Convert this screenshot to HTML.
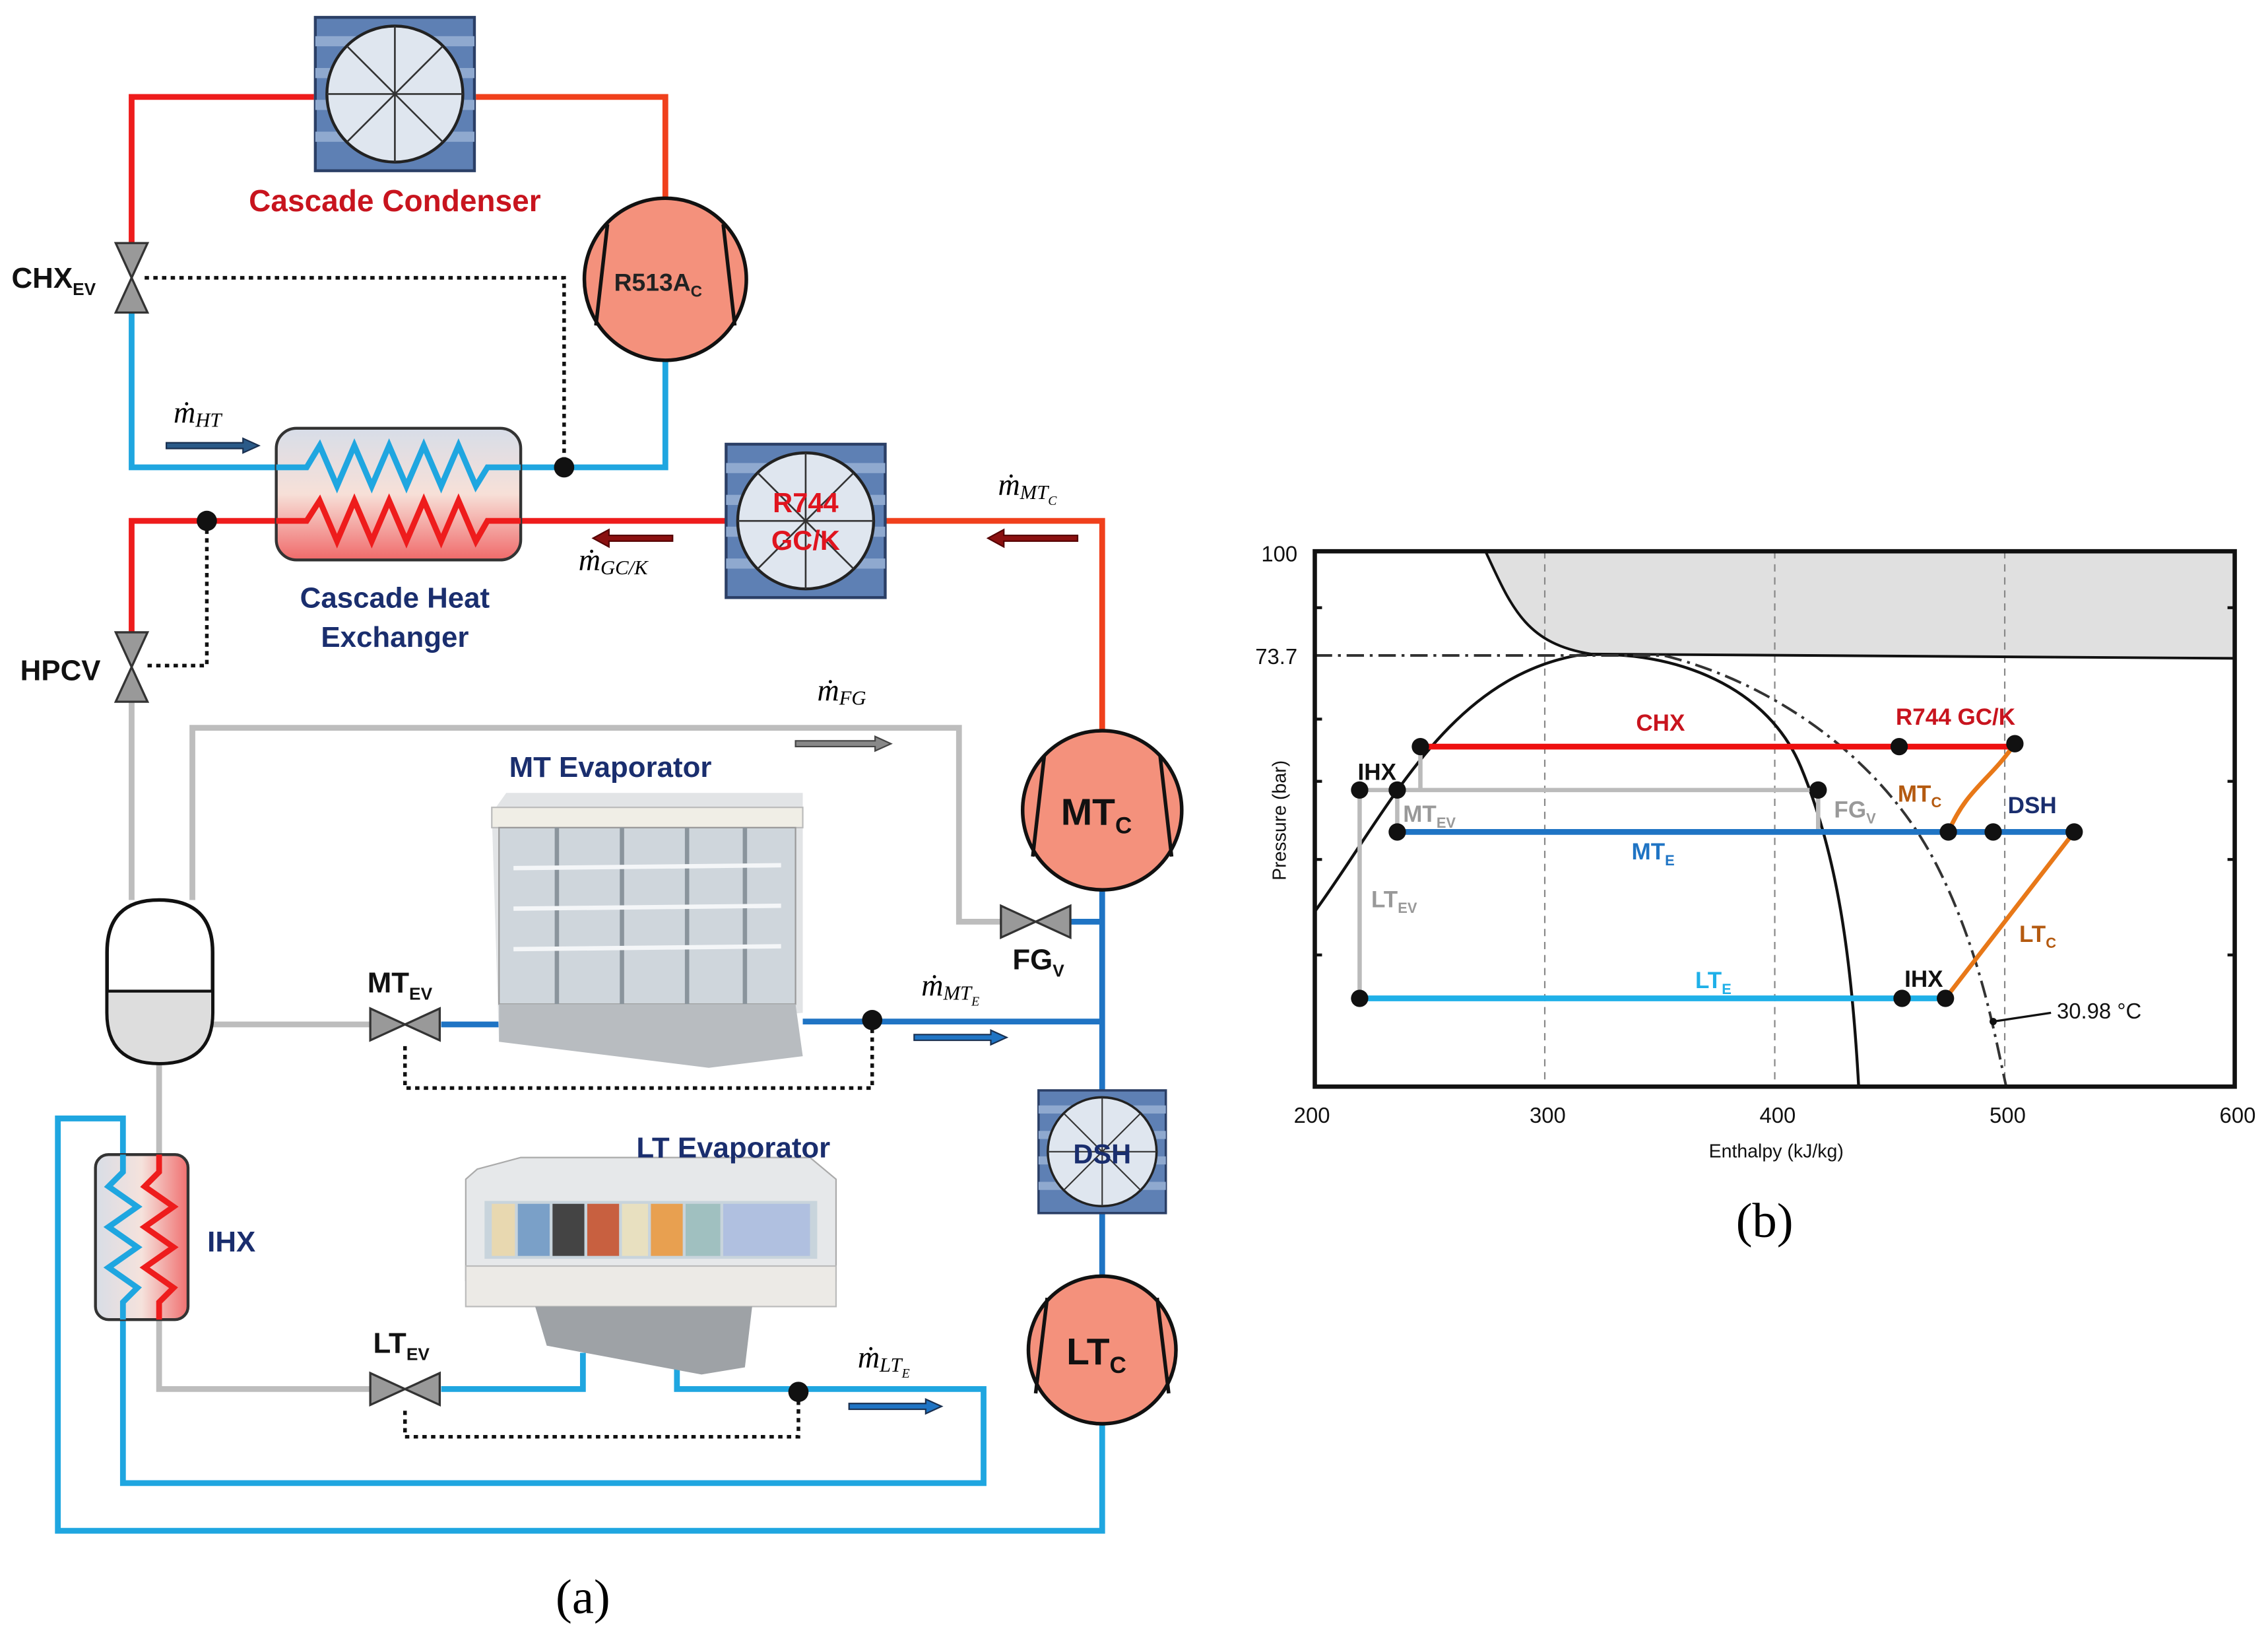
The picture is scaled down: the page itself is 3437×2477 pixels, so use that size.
<!DOCTYPE html>
<html><head><meta charset="utf-8"><style>
html,body{margin:0;padding:0;background:#fff;}
svg{display:block;}
.b{font-family:"Liberation Sans",sans-serif;font-weight:bold;}
.m{font-family:"Liberation Serif",serif;font-style:italic;}
</style></head><body>
<svg width="3437" height="2477" viewBox="0 0 1568 1130" preserveAspectRatio="none" xmlns="http://www.w3.org/2000/svg">
<defs>
<linearGradient id="hx" x1="0" y1="0" x2="0" y2="1">
<stop offset="0" stop-color="#d7dde8"/><stop offset="0.5" stop-color="#f7e0d8"/><stop offset="1" stop-color="#f06a6a"/></linearGradient>
<linearGradient id="ihx" x1="0" y1="0" x2="1" y2="0">
<stop offset="0" stop-color="#d8dde6"/><stop offset="0.5" stop-color="#f5e2dc"/><stop offset="1" stop-color="#f07070"/></linearGradient>
<g id="fan">
<rect x="-55" y="-53" width="110" height="106" fill="#5e80b4" stroke="#2b3f66" stroke-width="2"/>
<rect x="-55" y="-40" width="110" height="7" fill="#8fa9cf"/>
<rect x="-55" y="-18" width="110" height="7" fill="#8fa9cf"/>
<rect x="-55" y="4" width="110" height="7" fill="#8fa9cf"/>
<rect x="-55" y="26" width="110" height="7" fill="#8fa9cf"/>
<circle r="47" fill="#dfe6ef" stroke="#222" stroke-width="2"/>
<g stroke="#333" stroke-width="1.2"><line x1="-47" y1="0" x2="47" y2="0"/><line x1="0" y1="-47" x2="0" y2="47"/><line x1="-33" y1="-33" x2="33" y2="33"/><line x1="-33" y1="33" x2="33" y2="-33"/></g>
</g>
<g id="vv"><polygon points="-11,-24 11,-24 0,0" fill="#999" stroke="#333" stroke-width="1.5"/><polygon points="-11,24 11,24 0,0" fill="#999" stroke="#333" stroke-width="1.5"/></g>
<g id="hv"><polygon points="-24,-11 -24,11 0,0" fill="#999" stroke="#333" stroke-width="1.5"/><polygon points="24,-11 24,11 0,0" fill="#999" stroke="#333" stroke-width="1.5"/></g>
</defs>

<!-- pipes -->
<g fill="none" stroke-width="4">
<polyline points="91,168 91,67 217,67" stroke="#ee1c1c"/>
<polyline points="329,67 460,67 460,137" stroke="#f0401c"/>
<polyline points="91,215 91,323 191,323" stroke="#1fa6e0"/>
<polyline points="360,323 460,323 460,250" stroke="#1fa6e0"/>
<polyline points="91,437 91,360 191,360" stroke="#ee1c1c"/>
<line x1="360" y1="360" x2="503" y2="360" stroke="#ee1c1c"/>
<polyline points="610,360 762,360 762,505" stroke="#f0401c"/>
<line x1="91" y1="485" x2="91" y2="622" stroke="#bdbdbd"/>
<polyline points="133,622 133,503 663,503 663,637 692,637" stroke="#bdbdbd"/>
<line x1="740" y1="637" x2="762" y2="637" stroke="#1f74c4"/>
<line x1="147" y1="708" x2="256" y2="708" stroke="#bdbdbd"/>
<line x1="305" y1="708" x2="345" y2="708" stroke="#1f74c4"/>
<line x1="555" y1="706" x2="762" y2="706" stroke="#1f74c4"/>
<line x1="762" y1="615" x2="762" y2="881" stroke="#1f74c4"/>
<line x1="110" y1="735" x2="110" y2="798" stroke="#bdbdbd"/>
<polyline points="110,912 110,960 256,960" stroke="#bdbdbd"/>
<polyline points="305,960 403,960 403,935" stroke="#1fa6e0"/>
<polyline points="468,935 468,960 680,960 680,1025 85,1025 85,912" stroke="#1fa6e0"/>
<polyline points="762,985 762,1058 40,1058 40,773 85,773 85,798" stroke="#1fa6e0"/>
</g>
<!-- dotted control lines -->
<g fill="none" stroke="#111" stroke-width="2.5" stroke-dasharray="3,3">
<polyline points="100,192 390,192 390,323"/>
<polyline points="143,360 143,460 100,460"/>
<polyline points="603,705 603,752 280,752 280,722"/>
<polyline points="552,962 552,993 280,993 280,974"/>
</g>
<g fill="#111"><circle cx="390" cy="323" r="7"/><circle cx="143" cy="360" r="7"/><circle cx="603" cy="705" r="7"/><circle cx="552" cy="962" r="7"/></g>

<!-- fans -->
<use href="#fan" x="273" y="65"/>
<use href="#fan" x="557" y="360"/>
<g transform="translate(762,796) scale(0.8)"><use href="#fan"/></g>
<text x="557" y="354" text-anchor="middle" class="b" font-size="19" fill="#e0141e">R744</text>
<text x="557" y="380" text-anchor="middle" class="b" font-size="19" fill="#e0141e">GC/K</text>
<text x="762" y="804" text-anchor="middle" class="b" font-size="19" fill="#1a2e6e">DSH</text>

<!-- compressors -->
<g stroke="#111" stroke-width="2.5" fill="#f4917c">
<circle cx="460" cy="193" r="56"/><circle cx="762" cy="560" r="55"/><circle cx="762" cy="933" r="51"/>
</g>
<g stroke="#111" stroke-width="2.5">
<line x1="420" y1="155" x2="412" y2="225"/><line x1="500" y1="155" x2="508" y2="225"/>
<line x1="722" y1="522" x2="714" y2="592"/><line x1="802" y1="522" x2="810" y2="592"/>
<line x1="724" y1="897" x2="716" y2="963"/><line x1="800" y1="897" x2="808" y2="963"/>
</g>
<text x="455" y="201" text-anchor="middle" class="b" font-size="17" fill="#222">R513A<tspan font-size="11" dy="4">C</tspan></text>
<text x="758" y="570" text-anchor="middle" class="b" font-size="26" fill="#111">MT<tspan font-size="16" dy="6">C</tspan></text>
<text x="758" y="943" text-anchor="middle" class="b" font-size="26" fill="#111">LT<tspan font-size="16" dy="6">C</tspan></text>

<!-- valves -->
<use href="#vv" x="91" y="192"/>
<use href="#vv" x="91" y="461"/>
<use href="#hv" x="716" y="637"/>
<use href="#hv" x="280" y="708"/>
<use href="#hv" x="280" y="960"/>

<!-- cascade HX -->
<rect x="191" y="296" width="169" height="91" rx="14" fill="url(#hx)" stroke="#333" stroke-width="2"/>
<polyline points="191,323 212,323 221,308 233,336 245,308 257,336 269,308 281,336 293,308 305,336 317,308 329,336 337,323 360,323" fill="none" stroke="#1fa6e0" stroke-width="4"/>
<polyline points="191,360 212,360 221,346 233,374 245,346 257,374 269,346 281,374 293,346 305,374 317,346 329,374 337,360 360,360" fill="none" stroke="#ee1c1c" stroke-width="4"/>

<!-- receiver -->
<path d="M74,658 Q74,622 110,622 Q147,622 147,658 L147,700 Q147,735 110,735 Q74,735 74,700 Z" fill="#fff" stroke="#111" stroke-width="2.5"/>
<path d="M75,685 L146,685 L146,700 Q146,734 110,734 Q75,734 75,700 Z" fill="#ddd"/>
<line x1="74" y1="685" x2="147" y2="685" stroke="#111" stroke-width="2"/>

<!-- IHX -->
<rect x="66" y="798" width="64" height="114" rx="9" fill="url(#ihx)" stroke="#333" stroke-width="2"/>
<polyline points="85,798 85,810 75,820 95,834 75,848 95,862 75,876 95,890 85,900 85,912" fill="none" stroke="#1fa6e0" stroke-width="4"/>
<polyline points="110,798 110,810 100,820 120,834 100,848 120,862 100,876 120,890 110,900 110,912" fill="none" stroke="#ee1c1c" stroke-width="4"/>

<!-- MT case -->
<polygon points="340,562 350,548 555,548 555,700 345,720" fill="#e2e4e6"/>
<rect x="340" y="558" width="215" height="14" fill="#f0eee6" stroke="#bbb"/>
<rect x="345" y="572" width="205" height="122" fill="#cfd6dc" stroke="#999"/>
<g stroke="#8a949c" stroke-width="3"><line x1="385" y1="572" x2="385" y2="694"/><line x1="430" y1="572" x2="430" y2="694"/><line x1="475" y1="572" x2="475" y2="694"/><line x1="515" y1="572" x2="515" y2="694"/></g>
<g stroke="#f4f6f8" stroke-width="3"><line x1="355" y1="600" x2="540" y2="598"/><line x1="355" y1="628" x2="540" y2="626"/><line x1="355" y1="656" x2="540" y2="654"/></g>
<polygon points="345,694 550,694 555,730 490,738 345,720" fill="#b8bcc0"/>
<!-- LT case -->
<polygon points="330,808 360,800 560,800 578,815 578,885 322,885 322,815" fill="#e6e8ea" stroke="#aaa"/>
<rect x="335" y="830" width="230" height="40" fill="#c8d4dc"/>
<g><rect x="340" y="832" width="16" height="36" fill="#e8d8b0"/><rect x="358" y="832" width="22" height="36" fill="#7aa0c8"/><rect x="382" y="832" width="22" height="36" fill="#444"/><rect x="406" y="832" width="22" height="36" fill="#c86040"/><rect x="430" y="832" width="18" height="36" fill="#e8e0c0"/><rect x="450" y="832" width="22" height="36" fill="#e8a050"/><rect x="474" y="832" width="24" height="36" fill="#a0c0c0"/><rect x="500" y="832" width="60" height="36" fill="#b0c0e0"/></g>
<rect x="322" y="875" width="256" height="28" fill="#eceae6" stroke="#bbb"/>
<polygon points="370,903 520,903 515,945 485,950 378,930" fill="#9ea2a6"/>

<!-- labels -->
<text x="273" y="146" text-anchor="middle" class="b" font-size="21" fill="#c8141e">Cascade Condenser</text>
<text x="8" y="199" class="b" font-size="20" fill="#111">CHX<tspan font-size="12" dy="5">EV</tspan></text>
<text x="14" y="470" class="b" font-size="20" fill="#111">HPCV</text>
<text x="273" y="420" text-anchor="middle" class="b" font-size="20" fill="#1a2e6e">Cascade Heat</text>
<text x="273" y="447" text-anchor="middle" class="b" font-size="20" fill="#1a2e6e">Exchanger</text>
<text x="422" y="537" text-anchor="middle" class="b" font-size="20" fill="#1a2e6e">MT Evaporator</text>
<text x="507" y="800" text-anchor="middle" class="b" font-size="20" fill="#1a2e6e">LT Evaporator</text>
<text x="160" y="865" text-anchor="middle" class="b" font-size="20" fill="#1a2e6e">IHX</text>
<text x="254" y="686" class="b" font-size="20" fill="#111">MT<tspan font-size="12" dy="5">EV</tspan></text>
<text x="258" y="935" class="b" font-size="20" fill="#111">LT<tspan font-size="12" dy="5">EV</tspan></text>
<text x="700" y="670" class="b" font-size="20" fill="#111">FG<tspan font-size="12" dy="5">V</tspan></text>

<text x="120" y="292" class="m" font-size="21">ṁ<tspan font-size="14" dy="3">HT</tspan></text>
<text x="400" y="394" class="m" font-size="21">ṁ<tspan font-size="14" dy="3">GC/K</tspan></text>
<text x="690" y="342" class="m" font-size="21">ṁ<tspan font-size="14" dy="3">MT</tspan><tspan font-size="9" dy="4">C</tspan></text>
<text x="565" y="484" class="m" font-size="21">ṁ<tspan font-size="14" dy="3">FG</tspan></text>
<text x="637" y="688" class="m" font-size="21">ṁ<tspan font-size="14" dy="3">MT</tspan><tspan font-size="9" dy="4">E</tspan></text>
<text x="593" y="945" class="m" font-size="21">ṁ<tspan font-size="14" dy="3">LT</tspan><tspan font-size="9" dy="4">E</tspan></text>
<!-- flow arrows -->
<g stroke-width="1">
<polygon points="115,306 168,306 168,303 179,308 168,313 168,310 115,310" fill="#2a5a88" stroke="#1a3050"/>
<polygon points="465,370 421,370 421,366 410,372 421,378 421,374 465,374" fill="#8a1010" stroke="#500"/>
<polygon points="745,370 694,370 694,366 683,372 694,378 694,374 745,374" fill="#8a1010" stroke="#500"/>
<polygon points="550,512 605,512 605,509 616,514 605,519 605,516 550,516" fill="#888" stroke="#444"/>
<polygon points="632,715 685,715 685,712 696,717 685,722 685,719 632,719" fill="#1f74c4" stroke="#1a3050"/>
<polygon points="587,970 640,970 640,967 651,972 640,977 640,974 587,974" fill="#1f74c4" stroke="#1a3050"/>
</g>
<text x="403" y="1115" text-anchor="middle" font-family="Liberation Serif,serif" font-size="34">(a)</text>

<!-- chart -->
<path d="M1027,381 C1045,420 1055,445 1100,452 L1545,455 L1545,381 Z" fill="#e0e0e0"/>
<g stroke="#888" stroke-width="1" stroke-dasharray="5,4"><line x1="1068" y1="381" x2="1068" y2="751"/><line x1="1227" y1="381" x2="1227" y2="751"/><line x1="1386" y1="381" x2="1386" y2="751"/></g>
<path d="M1027,381 C1045,420 1055,445 1100,452 L1545,455" fill="none" stroke="#111" stroke-width="1.8"/>
<path d="M909,630 C960,560 1000,470 1090,453 C1150,448 1220,470 1245,530 C1270,590 1280,660 1285,751" fill="none" stroke="#111" stroke-width="2"/>
<path d="M909,453 L1150,453 C1220,470 1300,520 1340,600 C1370,660 1380,720 1387,751" fill="none" stroke="#333" stroke-width="1.8" stroke-dasharray="12,4,2,4"/>
<rect x="909" y="381" width="636" height="370" fill="none" stroke="#111" stroke-width="3"/>
<g stroke="#111" stroke-width="2"><line x1="909" y1="420" x2="914" y2="420"/><line x1="909" y1="497" x2="914" y2="497"/><line x1="909" y1="540" x2="914" y2="540"/><line x1="909" y1="594" x2="914" y2="594"/><line x1="909" y1="660" x2="914" y2="660"/><line x1="1540" y1="420" x2="1545" y2="420"/><line x1="1540" y1="540" x2="1545" y2="540"/><line x1="1540" y1="594" x2="1545" y2="594"/><line x1="1540" y1="660" x2="1545" y2="660"/></g>
<g stroke="#bbb" stroke-width="3" fill="none"><polyline points="982,516 982,546"/><line x1="940" y1="546" x2="1257" y2="546"/><line x1="966" y1="546" x2="966" y2="575"/><line x1="1257" y1="546" x2="1257" y2="575"/><line x1="940" y1="546" x2="940" y2="690"/></g>
<line x1="982" y1="516" x2="1393" y2="516" stroke="#ee1010" stroke-width="4"/>
<line x1="966" y1="575" x2="1434" y2="575" stroke="#1f74c4" stroke-width="4"/>
<line x1="940" y1="690" x2="1345" y2="690" stroke="#1fb0e8" stroke-width="4"/>
<path d="M1347,575 C1360,545 1375,540 1393,514" fill="none" stroke="#e87818" stroke-width="3"/>
<line x1="1345" y1="690" x2="1434" y2="575" stroke="#e87818" stroke-width="3"/>
<g fill="#111"><circle cx="982" cy="516" r="6"/><circle cx="1313" cy="516" r="6"/><circle cx="1393" cy="514" r="6"/><circle cx="940" cy="546" r="6"/><circle cx="966" cy="546" r="6"/><circle cx="1257" cy="546" r="6"/><circle cx="966" cy="575" r="6"/><circle cx="1347" cy="575" r="6"/><circle cx="1378" cy="575" r="6"/><circle cx="1434" cy="575" r="6"/><circle cx="940" cy="690" r="6"/><circle cx="1315" cy="690" r="6"/><circle cx="1345" cy="690" r="6"/><circle cx="1378" cy="706" r="2.5"/></g>
<line x1="1378" y1="706" x2="1418" y2="700" stroke="#111" stroke-width="1.5"/>
<g class="b" font-size="16">
<text x="1148" y="505" text-anchor="middle" fill="#c8141e">CHX</text>
<text x="1352" y="501" text-anchor="middle" fill="#c8141e">R744 GC/K</text>
<text x="952" y="539" text-anchor="middle" fill="#111">IHX</text>
<text x="970" y="568" fill="#999">MT<tspan font-size="10" dy="4">EV</tspan></text>
<text x="1268" y="565" fill="#999">FG<tspan font-size="10" dy="4">V</tspan></text>
<text x="1312" y="554" fill="#b45a10">MT<tspan font-size="10" dy="4">C</tspan></text>
<text x="1405" y="562" text-anchor="middle" fill="#1a2e6e">DSH</text>
<text x="1128" y="594" fill="#1f74c4">MT<tspan font-size="10" dy="4">E</tspan></text>
<text x="948" y="627" fill="#999">LT<tspan font-size="10" dy="4">EV</tspan></text>
<text x="1396" y="651" fill="#b45a10">LT<tspan font-size="10" dy="4">C</tspan></text>
<text x="1330" y="682" text-anchor="middle" fill="#111">IHX</text>
<text x="1172" y="683" fill="#1fb0e8">LT<tspan font-size="10" dy="4">E</tspan></text>
</g>
<g font-family="Liberation Sans,sans-serif" font-size="15" fill="#111">
<text x="1422" y="704">30.98 °C</text>
<text x="897" y="388" text-anchor="end">100</text>
<text x="897" y="459" text-anchor="end">73.7</text>
<text x="907" y="776" text-anchor="middle">200</text>
<text x="1070" y="776" text-anchor="middle">300</text>
<text x="1229" y="776" text-anchor="middle">400</text>
<text x="1388" y="776" text-anchor="middle">500</text>
<text x="1547" y="776" text-anchor="middle">600</text>
<text x="1228" y="800" text-anchor="middle" font-size="13">Enthalpy (kJ/kg)</text>
<text transform="translate(889,567) rotate(-90)" text-anchor="middle" font-size="13">Pressure (bar)</text>
</g>
<text x="1220" y="855" text-anchor="middle" font-family="Liberation Serif,serif" font-size="34">(b)</text>
</svg>
</body></html>
